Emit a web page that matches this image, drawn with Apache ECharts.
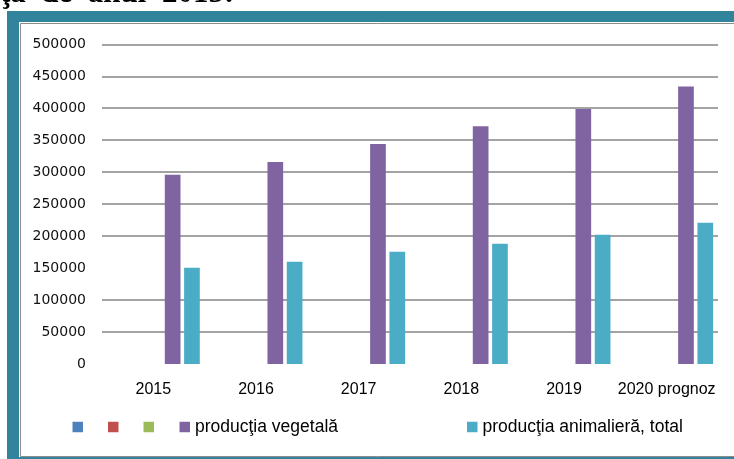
<!DOCTYPE html>
<html><head><meta charset="utf-8">
<script src="https://cdn.jsdelivr.net/npm/echarts@6/dist/echarts.min.js"></script>
<style>html,body{margin:0;padding:0;background:#fff}#c{width:734px;height:459px}</style>
</head><body><div id="c"></div>
<script>
const categories = ['2015', '2016', '2017', '2018', '2019', '2020 prognoz'];
const seria1 = ['-', '-', '-', '-', '-', '-'];
const seria2 = ['-', '-', '-', '-', '-', '-'];
const seria3 = ['-', '-', '-', '-', '-', '-'];
const productiaVegetala = [296000, 316000, 344000, 372000, 399000, 434000];
const productiaAnimaliera = [150500, 160000, 175500, 188000, 202000, 221000];
const yTicks = { min: 0, max: 500000, interval: 50000 };
const nameVeg = 'producţia vegetală';
const nameAnim = 'producţia animalieră, total';

const G = '#858585', N = 'rgba(0,0,0,0)';
const chart = echarts.init(document.getElementById('c'), null, { renderer: 'canvas' });
const legendText = { fontFamily: '"Liberation Sans", sans-serif', fontSize: 17.5, lineHeight: 18, color: '#000' };
function mkLegend(name, left, blank) {
  return {
    data: [name], left: left, top: 418, padding: 0, icon: 'rect',
    itemWidth: 10.5, itemHeight: 10.5, selectedMode: false,
    formatter: blank ? () => ' ' : (n) => n,
    textStyle: legendText
  };
}
const option = {
  animation: false,
  backgroundColor: '#fff',
  graphic: [
    { type: 'rect', z: -10, silent: true, shape: { x: 7, y: 11, width: 800, height: 500 }, style: { fill: '#31849b' } },
    { type: 'rect', z: -9, silent: true, shape: { x: 19, y: 22, width: 800, height: 435 }, style: { fill: '#fff' } },
    { type: 'rect', z: -8, silent: true, shape: { x: 20.5, y: 23.5, width: 800, height: 433 }, style: { fill: '#fff', stroke: '#8c8c8c', lineWidth: 1 } },
    { type: 'text', z: -7, silent: true, x: 0, y: -6, style: { text: 'ţa  de  anul  2015:', font: 'bold 31px "Liberation Serif", serif', fill: '#000', verticalAlign: 'middle', align: 'left' } }
  ],
  legend: [
    mkLegend('Seria 1', 72.5, true),
    mkLegend('Seria 2', 108, true),
    mkLegend('Seria 3', 143.5, true),
    mkLegend(nameVeg, 179.5, false),
    mkLegend(nameAnim, 467, false)
  ],
  grid: { left: 102, right: 16, top: 44.3, bottom: 95, containLabel: false },
  xAxis: {
    type: 'category', data: categories,
    axisLine: { show: false }, axisTick: { show: false },
    axisLabel: { margin: 18, color: '#000', fontSize: 16, fontFamily: '"Liberation Sans", sans-serif', interval: 0 }
  },
  yAxis: {
    type: 'value', min: yTicks.min, max: yTicks.max, interval: yTicks.interval,
    axisLine: { show: false }, axisTick: { show: false },
    axisLabel: { margin: 16, color: '#111', fontSize: 14, fontFamily: '"DejaVu Sans", sans-serif', formatter: (v) => String(v) },
    splitLine: { lineStyle: { color: [N, G, G, N, G, G, G, G, G, G, G], width: 1.5 } }
  },
  series: [
    { name: 'Seria 1', type: 'bar', data: seria1, barWidth: 15.7, barGap: '23%', itemStyle: { color: '#4f81bd' } },
    { name: 'Seria 2', type: 'bar', data: seria2, barWidth: 15.7, barGap: '23%', itemStyle: { color: '#c0504d' } },
    { name: 'Seria 3', type: 'bar', data: seria3, barWidth: 15.7, barGap: '23%', itemStyle: { color: '#9bbb59' } },
    { name: nameVeg, type: 'bar', data: productiaVegetala, barWidth: 15.7, barGap: '23%', itemStyle: { color: '#8064a2' } },
    { name: nameAnim, type: 'bar', data: productiaAnimaliera, barWidth: 15.7, barGap: '23%', itemStyle: { color: '#4bacc6' } }
  ]
};
chart.setOption(option);
</script></body></html>
